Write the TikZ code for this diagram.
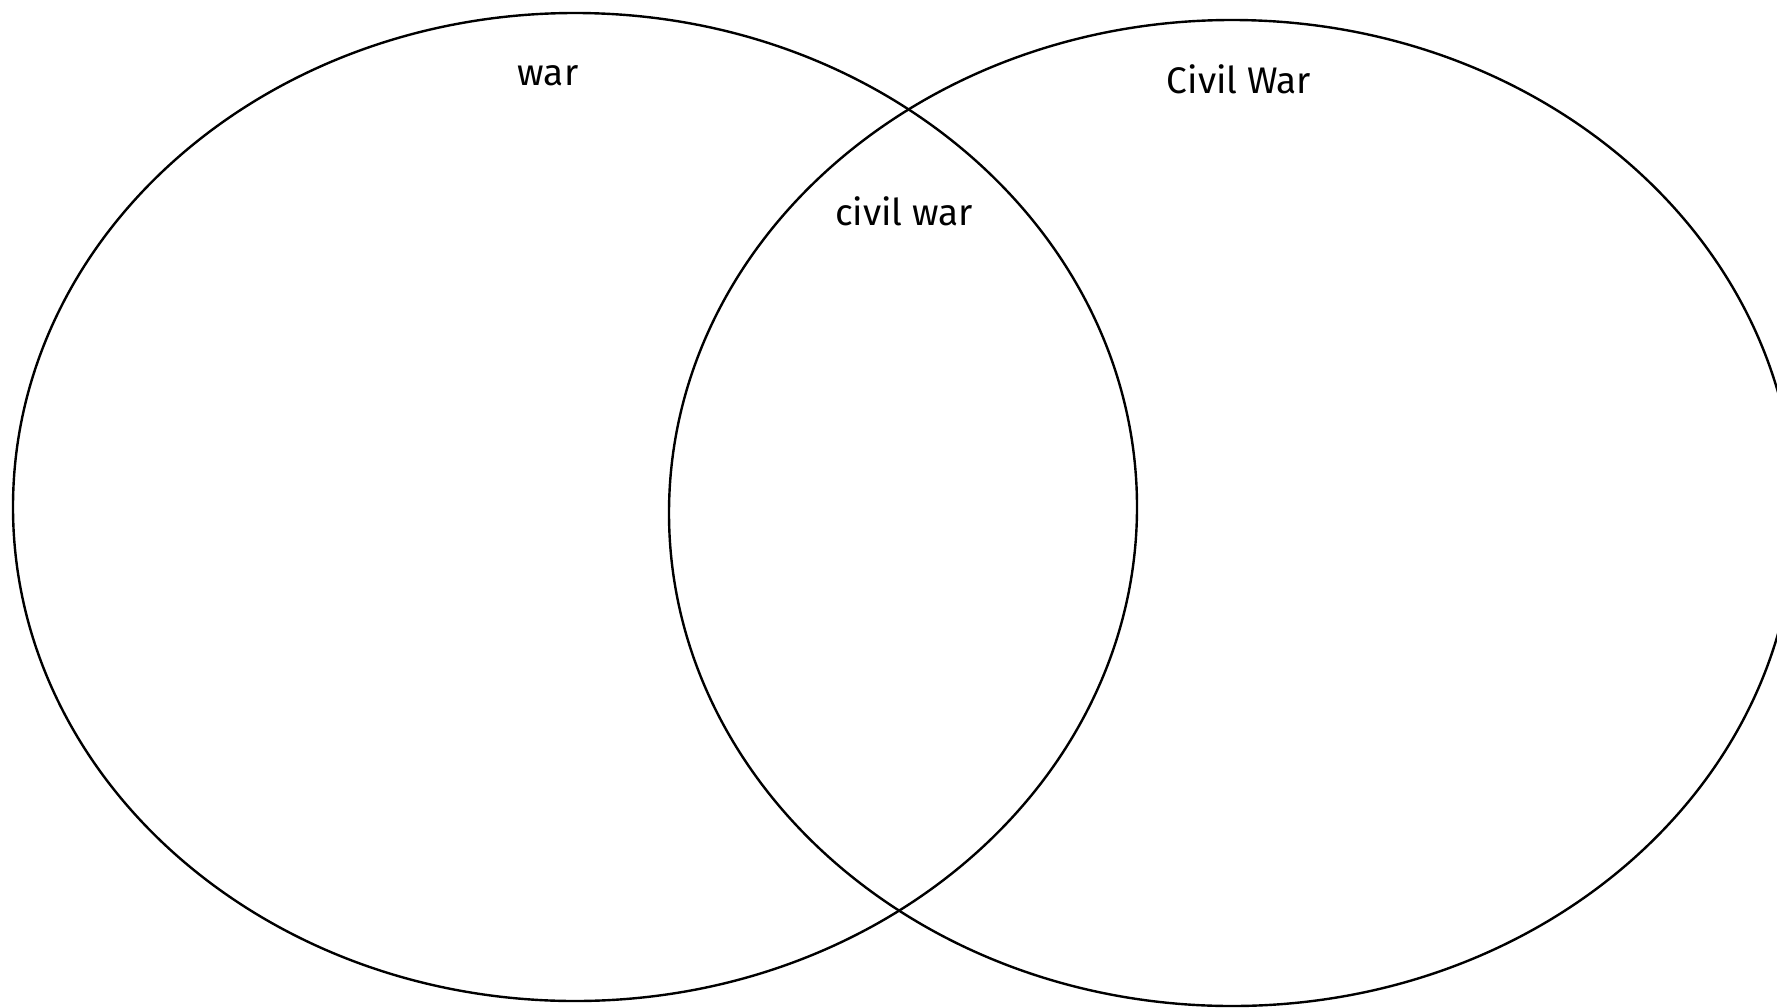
\documentclass[tikz,border=0pt]{standalone}
\usepackage{fontspec}
\setmainfont{Fira Sans}
\usetikzlibrary{positioning}

\tikzset{
  setline/.style={line width=2.4pt, black},
  setlabel/.style={anchor=base, inner sep=0pt, font=\fontsize{37}{44}\selectfont}
}

\begin{document}
\begin{tikzpicture}[x=1pt, y=-1pt]

\clip (0,0) rectangle (1777,1007);
\fill[white] (0,0) rectangle (1777,1007);

% the two sets
\draw[setline] (575,507) ellipse [x radius=562, y radius=494];
\draw[setline] (1232,513) ellipse [x radius=563, y radius=493];

% labels
\node[setlabel] (war) at (548,85) {war};
\node[setlabel] (civilwarcap) at (1239,93) {Civil War};
\node[setlabel] (civilwar) at (904,225) {civil war};

\end{tikzpicture}
\end{document}
